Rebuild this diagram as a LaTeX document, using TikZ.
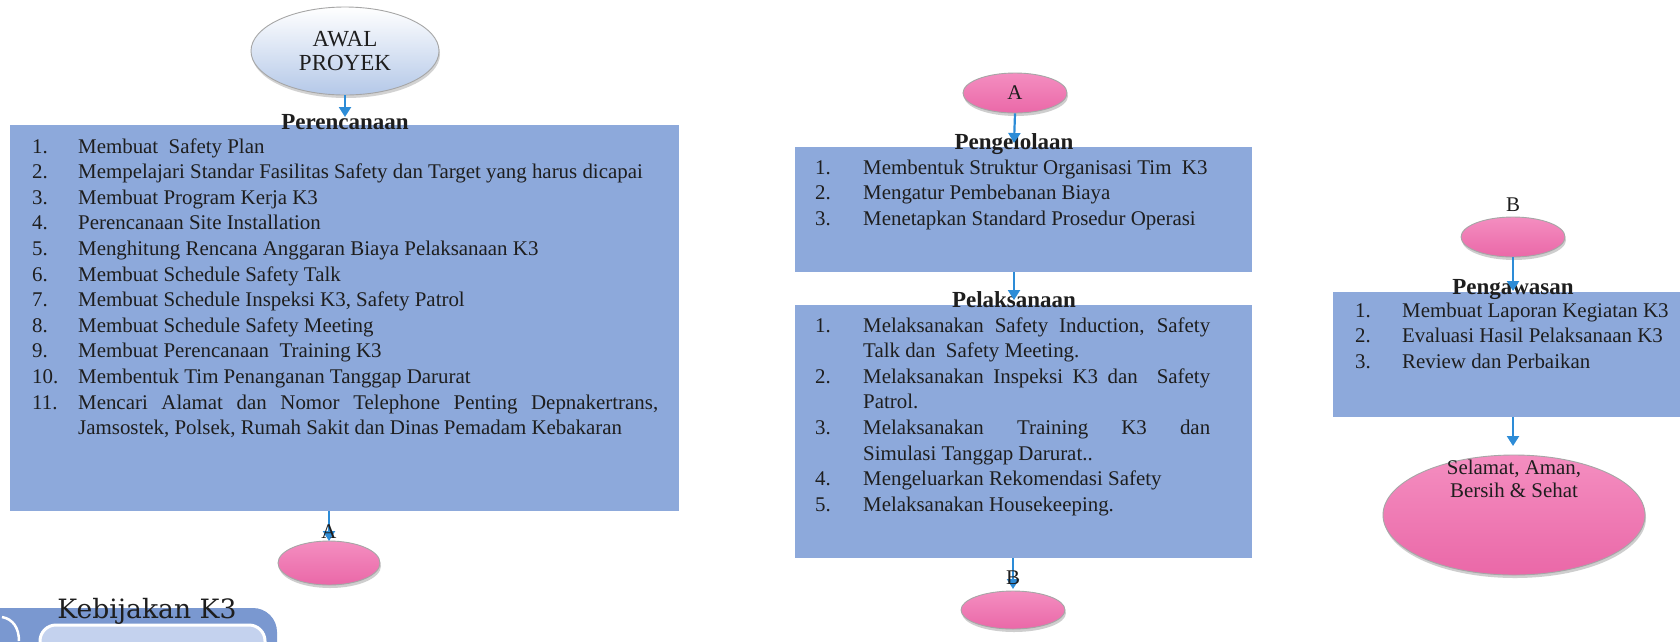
\documentclass[tikz,border=0pt]{standalone}
\usepackage{graphicx}
\usepackage{fontspec}
\setmainfont{Liberation Serif}
\newfontfamily\kebfont{DejaVu Serif}
\usetikzlibrary{shapes.geometric,shadows,arrows.meta}
\definecolor{boxblue}{RGB}{141,169,219}
\definecolor{arrblue}{RGB}{45,140,215}
\definecolor{pinkfill}{RGB}{234,104,168}
\definecolor{pinktop}{RGB}{244,142,192}
\definecolor{awalbot}{RGB}{180,200,232}
\definecolor{bandblue}{RGB}{122,152,208}
\definecolor{bandlight}{RGB}{196,210,238}
\definecolor{txt}{RGB}{30,30,30}
\newcommand{\kitem}[3]{\par\noindent\hangindent=#1\hangafter=1\makebox[#1][l]{#2}#3\par}
\begin{document}
\begin{tikzpicture}[x=1pt,y=-1pt,
  listbox/.style={fill=boxblue, draw=none, inner sep=0pt, anchor=north west},
  heading/.style={font=\fontsize{23}{26}\selectfont\bfseries, inner sep=0pt, anchor=base, text=txt},
  body/.style={font=\fontsize{20.9}{25.6}\selectfont, inner sep=0pt, text=txt},
  pinkell/.style={ellipse, draw=gray!70, line width=0.9pt, top color=pinktop, bottom color=pinkfill,
    drop shadow={shadow xshift=1pt, shadow yshift=-3pt, fill=gray!75}, inner sep=0pt},
  arr/.style={draw=arrblue, line width=2.2pt, -{Triangle[width=12pt,length=10pt]}},
]
\useasboundingbox (0,0) rectangle (1680,641);
\fill[white] (0,0) rectangle (1680,641);

% ---------- left column ----------
\node[listbox, minimum width=669pt, minimum height=386pt] (box1) at (10,125) {};
\node[body, anchor=base west] (list1) at (32,153) {\parbox[t]{626pt}{%
\kitem{46pt}{1.}{Membuat~~Safety Plan}
\kitem{46pt}{2.}{Mempelajari Standar Fasilitas Safety dan Target yang harus dicapai}
\kitem{46pt}{3.}{Membuat Program Kerja K3}
\kitem{46pt}{4.}{Perencanaan Site Installation}
\kitem{46pt}{5.}{Menghitung Rencana Anggaran Biaya Pelaksanaan K3}
\kitem{46pt}{6.}{Membuat Schedule Safety Talk}
\kitem{46pt}{7.}{Membuat Schedule Inspeksi K3, Safety Patrol}
\kitem{46pt}{8.}{Membuat Schedule Safety Meeting}
\kitem{46pt}{9.}{Membuat Perencanaan~~Training K3}
\kitem{46pt}{10.}{Membentuk Tim Penanganan Tanggap Darurat}
\kitem{46pt}{11.}{Mencari Alamat dan Nomor Telephone Penting Depnakertrans,\linebreak Jamsostek, Polsek, Rumah Sakit dan Dinas Pemadam Kebakaran}}};
\node[heading] (h1) at (345,129) {Perencanaan};
\node[ellipse, minimum width=188pt, minimum height=88pt, draw=gray!70, line width=0.9pt,
  top color=white, bottom color=awalbot, drop shadow={shadow xshift=1pt, shadow yshift=-3pt, fill=gray!70},
  align=center, font=\fontsize{23}{24}\selectfont, text=txt, inner sep=0pt] (awal) at (345,51) {AWAL\\PROYEK};
\coordinate (t1) at (345,117);
\draw[arr] (awal.south) -- (t1);

\node[pinkell, minimum width=102pt, minimum height=44pt] (pA1) at (329,563) {};
\coordinate (tA1) at (329,541);
\draw[arr] (box1.south -| tA1) -- (tA1);
\node[body] (labA1) at (329,532) {A};

% ---------- Kebijakan K3 ----------
\fill[bandblue, rounded corners=24pt] (-40,608) rectangle (277,720);
\draw[white, line width=2.5pt] (2,617) .. controls (13,619) and (19,628) .. (19,641);
\filldraw[fill=bandlight, draw=white, line width=3pt, rounded corners=16pt] (40,625) rectangle (265,720);
\node[inner sep=0pt, text=txt] (keb) at (147,611) {\resizebox{179pt}{!}{\kebfont Kebijakan K3}};

% ---------- middle column ----------
\node[pinkell, minimum width=104pt, minimum height=40pt, body] (pA2) at (1015,93) {A};
\node[listbox, minimum width=457pt, minimum height=125pt] (box2) at (795,147) {};
\node[body, anchor=base west] (list2) at (815,174) {\parbox[t]{420pt}{%
\kitem{48pt}{1.}{Membentuk Struktur Organisasi Tim~~K3}
\kitem{48pt}{2.}{Mengatur Pembebanan Biaya}
\kitem{48pt}{3.}{Menetapkan Standard Prosedur Operasi}}};
\node[heading] (h2) at (1014,149) {Pengelolaan};
\coordinate (t2) at (1014,143);
\draw[arr] (pA2.south) -- (t2);

\node[listbox, minimum width=457pt, minimum height=253pt] (box3) at (795,305) {};
\node[body, anchor=base west] (list3) at (815,332) {\parbox[t]{395pt}{%
\kitem{48pt}{1.}{Melaksanakan Safety Induction, Safety\linebreak Talk dan~~Safety Meeting.}
\kitem{48pt}{2.}{Melaksanakan Inspeksi K3 dan~~Safety\linebreak Patrol.}
\kitem{48pt}{3.}{Melaksanakan Training K3 dan\linebreak Simulasi Tanggap Darurat..}
\kitem{48pt}{4.}{Mengeluarkan Rekomendasi Safety}
\kitem{48pt}{5.}{Melaksanakan Housekeeping.}}};
\node[heading] (h3) at (1014,307) {Pelaksanaan};
\coordinate (t3) at (1014,300);
\draw[arr] (box2.south -| t3) -- (t3);

\node[pinkell, minimum width=104pt, minimum height=38pt] (pB1) at (1013,610) {};
\coordinate (tB1) at (1013,589);
\draw[arr] (box3.south -| tB1) -- (tB1);
\node[body] (labB1) at (1013,578) {B};

% ---------- right column ----------
\node[body] (labB2) at (1513,205) {B};
\node[pinkell, minimum width=104pt, minimum height=40pt] (pB2) at (1513,237) {};
\node[listbox, minimum width=360pt, minimum height=125pt] (box4) at (1333,292) {};
\node[body, anchor=base west] (list4) at (1355,317) {\parbox[t]{325pt}{%
\kitem{47pt}{1.}{Membuat Laporan Kegiatan K3}
\kitem{47pt}{2.}{Evaluasi Hasil Pelaksanaan K3}
\kitem{47pt}{3.}{Review dan Perbaikan}}};
\node[heading] (h4) at (1513,294) {Pengawasan};
\coordinate (t4) at (1513,291);
\draw[arr] (pB2.south) -- (t4);

\node[pinkell, minimum width=262pt, minimum height=120pt] (selamat) at (1514,515) {};
\node[body, align=center, font=\fontsize{20.9}{23}\selectfont] (seltxt) at (1514,479) {Selamat, Aman,\\Bersih \& Sehat};
\coordinate (t5) at (1513,446);
\draw[arr] (box4.south -| t5) -- (t5);
\end{tikzpicture}
\end{document}
